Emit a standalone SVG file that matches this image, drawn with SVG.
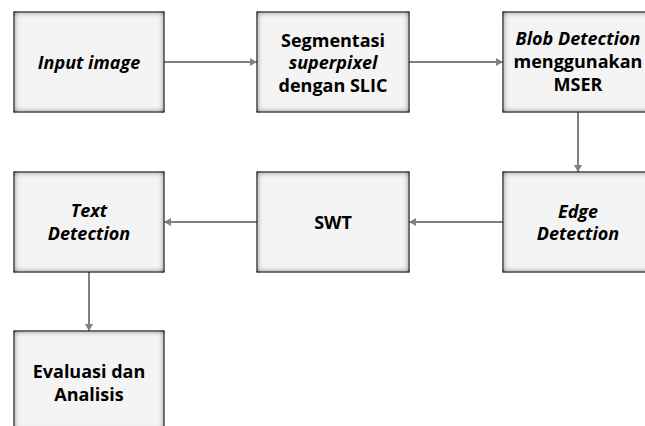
<svg xmlns="http://www.w3.org/2000/svg" width="645" height="426" viewBox="0 0 645 426">
<style>
.box{fill:#f4f4f4;stroke:#333;stroke-width:1;filter:url(#inner)}
.t{font-family:"Open Sans","Noto Sans","Liberation Sans",sans-serif;font-weight:bold;font-size:18px;fill:#000;text-anchor:middle}
.i{font-style:italic}
.c{stroke:#808080;stroke-width:2;fill:none;marker-end:url(#ah)}
</style>
<defs>
<filter id="inner" x="-10%" y="-10%" width="120%" height="120%">
<feComponentTransfer in="SourceAlpha" result="inv"><feFuncA type="table" tableValues="1 0"/></feComponentTransfer>
<feGaussianBlur stdDeviation="3.2"/>
<feComposite operator="in" in2="SourceAlpha"/>
<feComponentTransfer result="sh"><feFuncA type="linear" slope="1.2"/></feComponentTransfer>
<feMerge><feMergeNode in="SourceGraphic"/><feMergeNode in="sh"/></feMerge>
</filter>
<marker id="ah" markerWidth="8" markerHeight="8" refX="7" refY="4" orient="auto" markerUnits="userSpaceOnUse">
<path d="M0,0 L7,4 L0,8 Z" fill="#808080"/>
</marker>
</defs>
<g id="connectors">
<line class="c" x1="164" y1="62" x2="257" y2="62"/>
<line class="c" x1="409" y1="62" x2="503" y2="62"/>
<line class="c" x1="578" y1="112" x2="578" y2="172"/>
<line class="c" x1="503" y1="222" x2="409" y2="222"/>
<line class="c" x1="257" y1="222" x2="164" y2="222"/>
<line class="c" x1="89" y1="272" x2="89" y2="331"/>
</g>
<g id="input">
<rect class="box" x="14" y="12" width="150" height="100"/>
<text class="t i" x="89" y="69">Input image</text>
</g>
<g id="slic">
<rect class="box" x="257" y="12" width="152" height="100"/>
<text class="t" x="333" y="46.5">Segmentasi</text>
<text class="t i" x="333" y="69">superpixel</text>
<text class="t" x="333" y="91.5">dengan SLIC</text>
</g>
<g id="mser">
<rect class="box" x="503" y="12" width="150" height="100"/>
<text class="t i" x="578" y="45">Blob Detection</text>
<text class="t" x="578" y="67.5">menggunakan</text>
<text class="t" x="578" y="90.5">MSER</text>
</g>
<g id="edge">
<rect class="box" x="503" y="172" width="150" height="100"/>
<text class="t i" x="578" y="217.5">Edge</text>
<text class="t i" x="578" y="240">Detection</text>
</g>
<g id="swt">
<rect class="box" x="257" y="172" width="152" height="100"/>
<text class="t" x="333" y="229">SWT</text>
</g>
<g id="textdet">
<rect class="box" x="14" y="172" width="150" height="100"/>
<text class="t i" x="89" y="217">Text</text>
<text class="t i" x="89" y="239.5">Detection</text>
</g>
<g id="eval">
<rect class="box" x="14" y="331" width="150" height="100"/>
<text class="t" x="89" y="378">Evaluasi dan</text>
<text class="t" x="89" y="400.5">Analisis</text>
</g>
</svg>
